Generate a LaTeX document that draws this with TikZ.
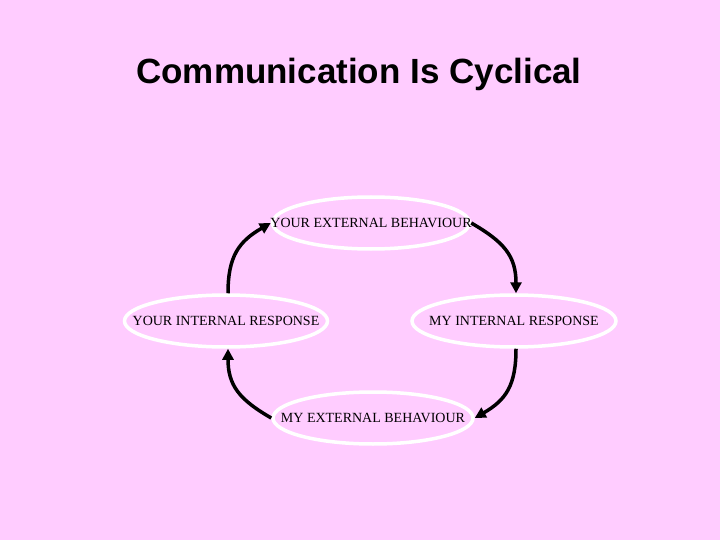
\documentclass[tikz,border=0pt]{standalone}
\usepackage{fontspec}
\setmainfont{Liberation Serif}
\newfontfamily\titlefont{Liberation Sans}
\usetikzlibrary{shapes.geometric,arrows.meta}
\definecolor{bgpink}{HTML}{FFCCFF}
\tikzset{
  stage/.style={ellipse, draw=white, line width=3.5pt, inner sep=0pt,
    minimum width=#1, minimum height=52pt},
  stagetext/.style={font=\fontsize{14}{16}\selectfont, inner sep=0pt},
  cyc/.style={line width=3.5pt, black, -{Triangle[length=11pt,width=11pt]}},
}
\begin{document}
\begin{tikzpicture}[x=1pt,y=-1pt]
\useasboundingbox[fill=bgpink] (0,0) rectangle (720,540);
\node[font=\titlefont\bfseries\fontsize{35}{40}\selectfont, anchor=base] (title) at (359,84) {Communication Is Cyclical};
\node[stage=197pt] (T) at (371,223) {};
\node[stage=203pt] (L) at (226,321) {};
\node[stage=204pt] (R) at (514,321) {};
\node[stage=200pt] (B) at (373,418) {};
\node[stagetext] (Tt) at (T.center) {YOUR EXTERNAL BEHAVIOUR};
\node[stagetext] (Lt) at (L.center) {YOUR INTERNAL RESPONSE};
\node[stagetext] (Rt) at (R.center) {MY INTERNAL RESPONSE};
\node[stagetext] (Bt) at (B.center) {MY EXTERNAL BEHAVIOUR};
\draw[cyc] ([xshift=2pt]L.north) to[out=90,in=210,looseness=1.15] (T.west);
\draw[cyc] (T.east) to[out=-30,in=90,looseness=1.15] ([xshift=2pt]R.north);
\draw[cyc] ([xshift=2pt]R.south) to[out=-90,in=30,looseness=1.15] (B.east);
\draw[cyc] (B.west) to[out=150,in=-90,looseness=1.15] ([xshift=2pt]L.south);
\end{tikzpicture}
\end{document}
